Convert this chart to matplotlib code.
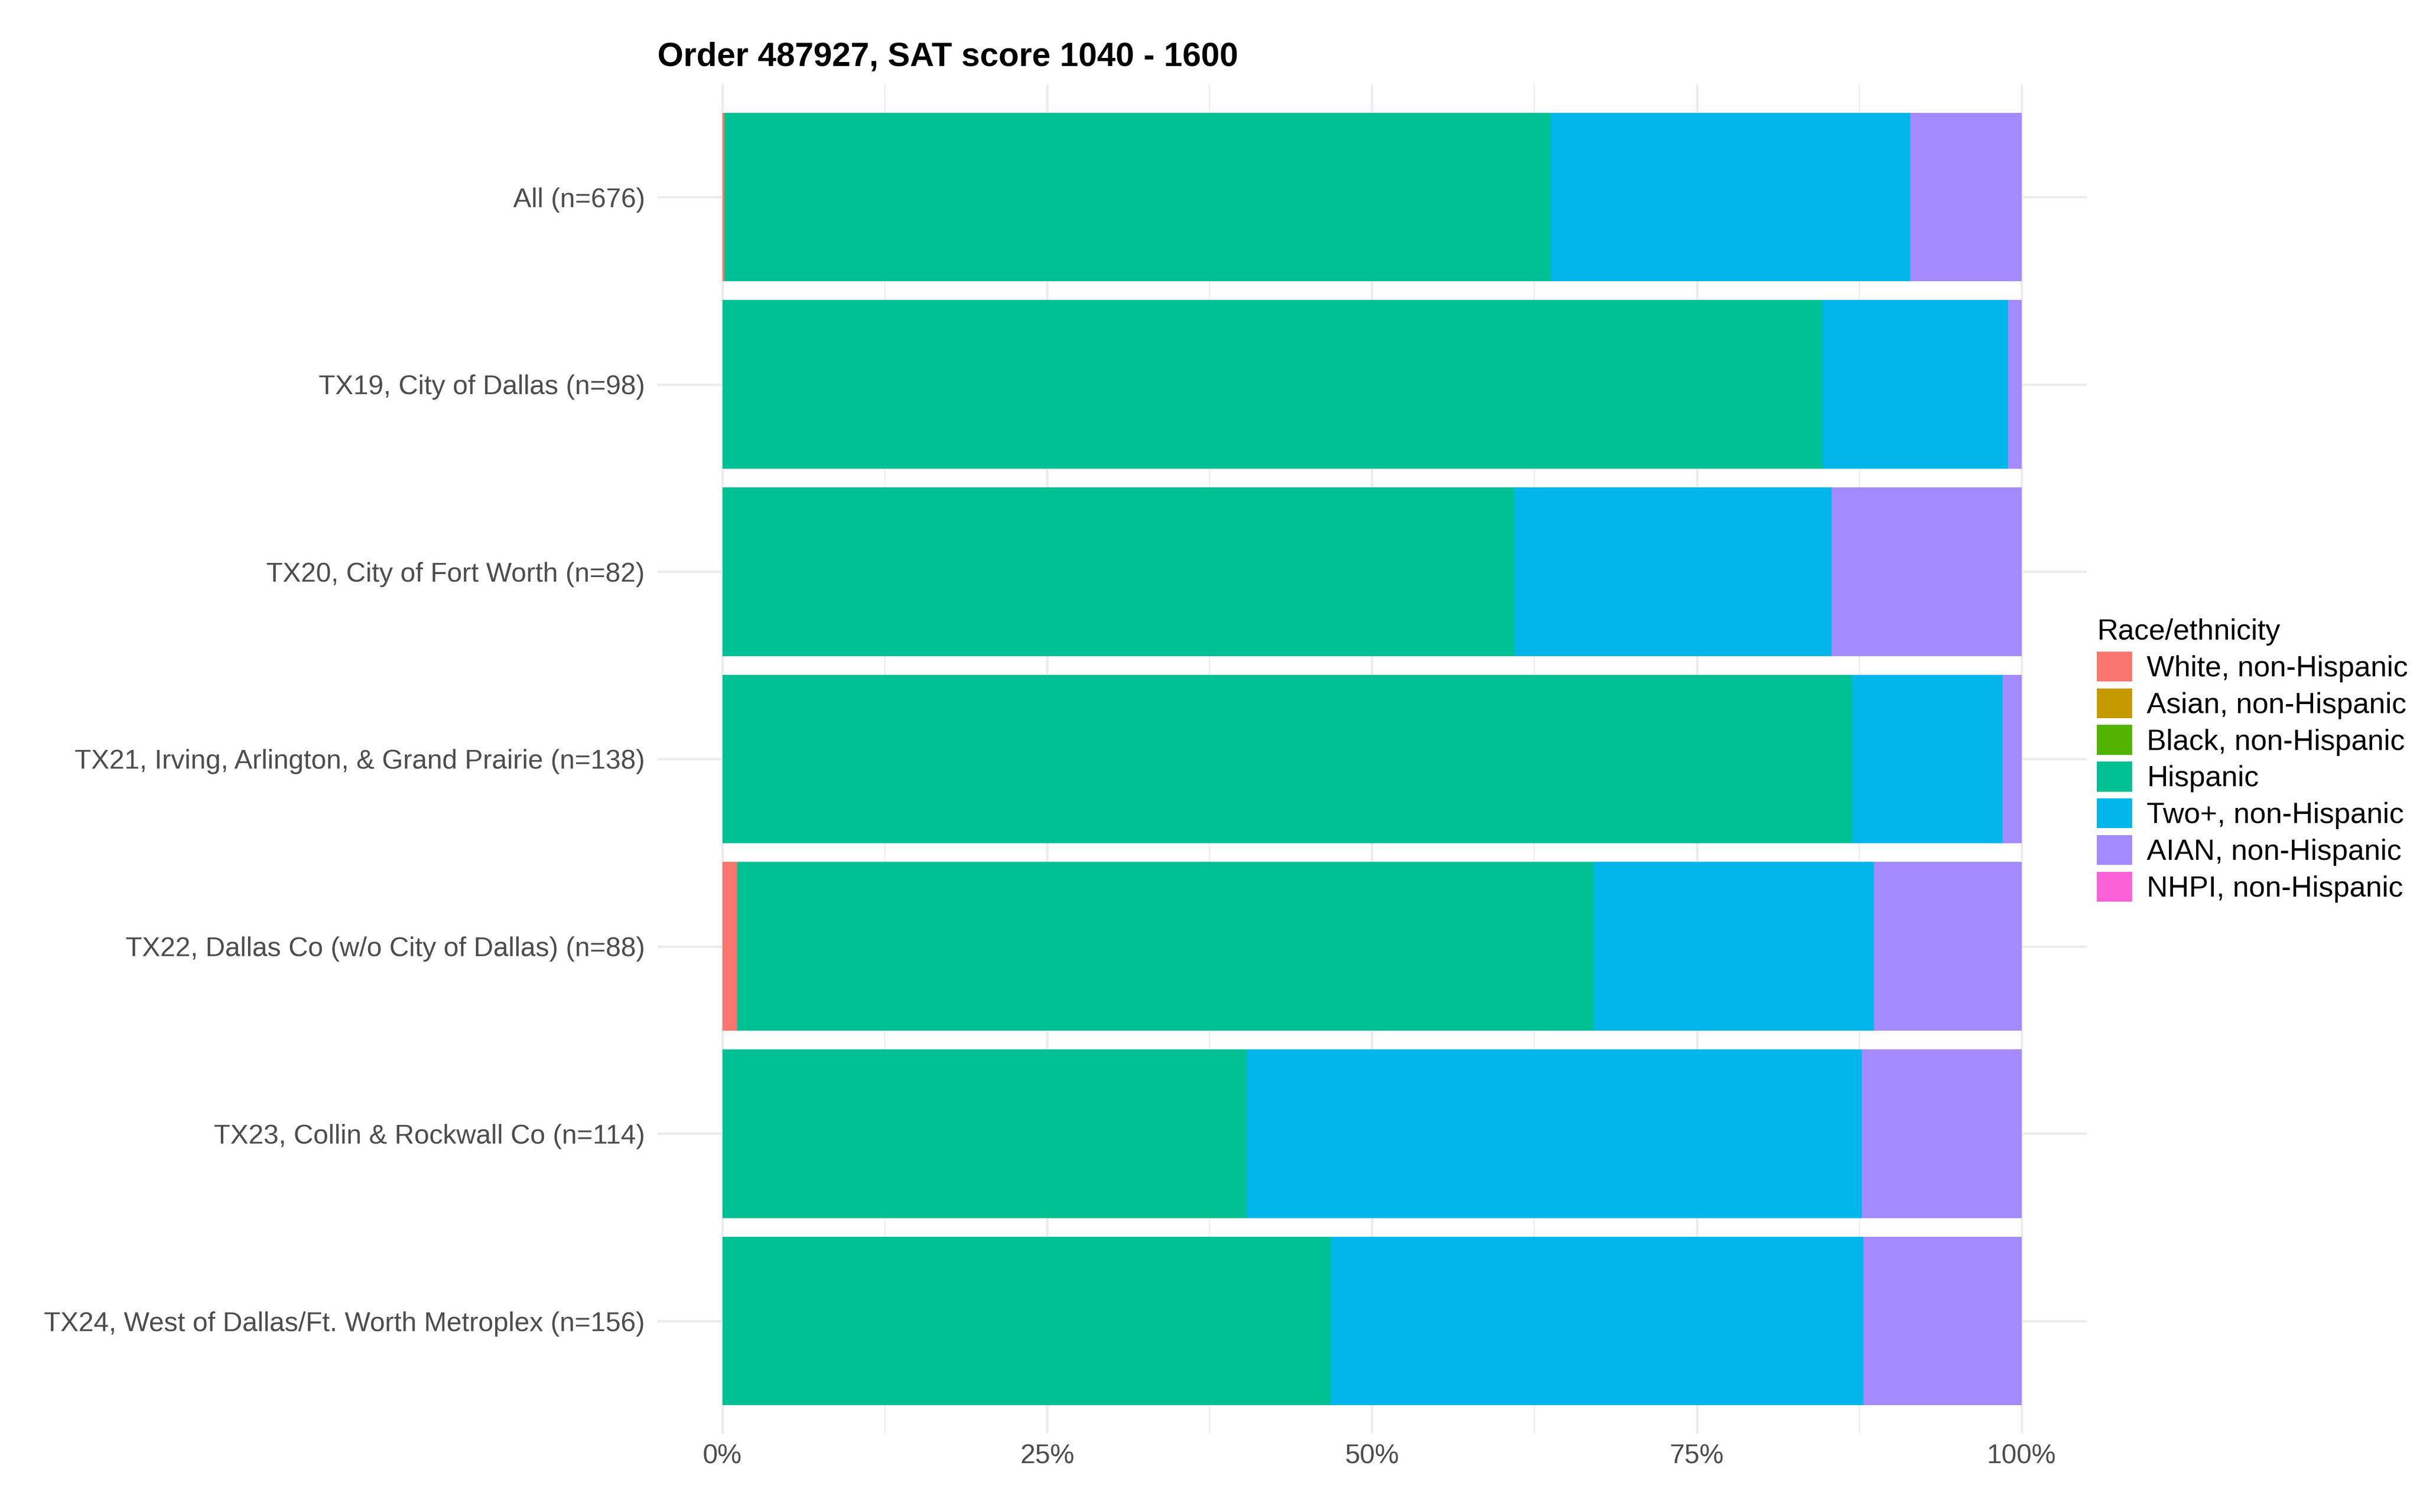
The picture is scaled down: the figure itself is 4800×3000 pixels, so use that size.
import matplotlib
matplotlib.use("Agg")
import matplotlib.pyplot as plt
from matplotlib.patches import Patch
from matplotlib.ticker import FixedLocator
import numpy as np

plt.rcParams['font.family'] = ['Liberation Sans', 'DejaVu Sans']

# rows, top to bottom
districts = ["All (n=676)",
             "TX19, City of Dallas (n=98)",
             "TX20, City of Fort Worth (n=82)",
             "TX21, Irving, Arlington, & Grand Prairie (n=138)",
             "TX22, Dallas Co (w/o City of Dallas) (n=88)",
             "TX23, Collin & Rockwall Co (n=114)",
             "TX24, West of Dallas/Ft. Worth Metroplex (n=156)"]
n_total = [676, 98, 82, 138, 88, 114, 156]

groups = ["White, non-Hispanic", "Asian, non-Hispanic", "Black, non-Hispanic",
          "Hispanic", "Two+, non-Hispanic", "AIAN, non-Hispanic", "NHPI, non-Hispanic"]
colors = ["#F8766D", "#C49A00", "#53B400", "#00C094", "#00B6EB", "#A58AFF", "#FB61D7"]

# counts per group, one value per district row
white = [1, 0, 0, 0, 1, 0, 0]
asian = [0, 0, 0, 0, 0, 0, 0]
black = [0, 0, 0, 0, 0, 0, 0]
hispanic = [430, 83, 50, 120, 58, 46, 73]
two_plus = [187, 14, 20, 16, 19, 54, 64]
aian = [58, 1, 12, 2, 10, 14, 19]
nhpi = [0, 0, 0, 0, 0, 0, 0]

counts = [white, asian, black, hispanic, two_plus, aian, nhpi]

fig = plt.figure(figsize=(16, 10), dpi=300)
ax = fig.add_axes([0.2717, 0.052, 0.5905, 0.892])

y = np.arange(len(districts))
left = np.zeros(len(districts))
tot = np.array(n_total, dtype=float)
for vals, col in zip(counts, colors):
    share = np.array(vals) / tot
    ax.barh(y, share, left=left, height=0.9, color=col, linewidth=0)
    left += share

ax.set_xlim(-0.05, 1.05)
ax.set_ylim(len(districts) - 0.4, -0.6)
ax.set_yticks(y)
ax.set_yticklabels(districts)
ax.set_xticks([0, 0.25, 0.5, 0.75, 1.0])
ax.set_xticklabels(["0%", "25%", "50%", "75%", "100%"])
ax.xaxis.set_minor_locator(FixedLocator([0.125, 0.375, 0.625, 0.875]))

ax.grid(True, which="major", color="#EBEBEB", linewidth=1.1)
ax.grid(True, which="minor", axis="x", color="#EBEBEB", linewidth=0.55)
ax.set_axisbelow(True)
for s in ax.spines.values():
    s.set_visible(False)
ax.tick_params(axis="both", which="both", length=0)
ax.tick_params(axis="y", labelsize=12.9, labelcolor="#4D4D4D", pad=6)
ax.tick_params(axis="x", labelsize=12.9, labelcolor="#4D4D4D", pad=5)

ax.set_title("Order 487927, SAT score 1040 - 1600", loc="left",
             fontsize=15.9, fontweight="bold", pad=9)

handles = [Patch(facecolor=c, edgecolor="none") for c in colors]
leg = fig.legend(handles, groups, title="Race/ethnicity", loc="center left",
                 bbox_to_anchor=(0.8605, 0.497), frameon=False, fontsize=13.9,
                 title_fontsize=13.9, handlelength=1.2, handleheight=1.2,
                 handletextpad=0.5, labelspacing=0.2, borderpad=0,
                 alignment="left")

fig.savefig("out.png", dpi=300)
